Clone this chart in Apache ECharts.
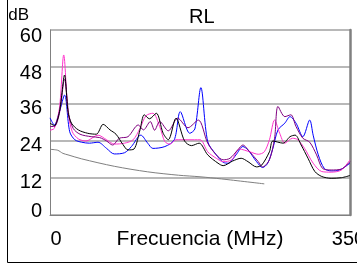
<!DOCTYPE html>
<html><head><meta charset="utf-8">
<script src="https://cdn.jsdelivr.net/npm/echarts@6/dist/echarts.min.js"></script>
<style>html,body{margin:0;padding:0;background:#fff}#c{width:357px;height:266px}</style>
</head><body><div id="c"></div>
<script>
const xTicks = [0, 350];
const yTicks = [0, 12, 24, 36, 48, 60];
const black = [[0,29.8],[5,29],[11,33.5],[17,45.4],[21,33.5],[25,29.8],[33,27.6],[44,26.5],[54,26.2],[62,29.4],[70,27.6],[77,26.2],[85,22.9],[91,21.1],[98,21.4],[105,27.6],[110,32.5],[116,31.2],[124,33],[132,26.5],[138,24.4],[147,31.4],[157,24],[165,22.5],[174,23.3],[184,19.5],[196,16.8],[202,16],[213,17.5],[223,18.4],[231,17.3],[241,15.6],[247,16.2],[256,20.5],[260,24],[272,23.3],[280,25.4],[286,25.9],[293,22.7],[301,18.4],[309,14.1],[317,12.5],[328,11.9],[340,12.1],[350,12.8]];
const blue = [[0,31.5],[5,29.2],[11,33.5],[17,38.9],[23,27],[29,24.4],[37,23.6],[46,23.3],[56,23.6],[66,21.6],[75,19.8],[87,20.2],[95,22.2],[106,25.9],[114,23.3],[120,21.6],[134,22.2],[145,24.4],[152,33.5],[163,26.5],[169,27.9],[176,41.3],[184,23.8],[194,19.5],[202,17.1],[208,16.8],[217,19.5],[225,22.2],[231,21.1],[241,17.3],[248,15.4],[254,16.8],[260,21.6],[266,27.6],[274,29.8],[280,31.9],[287,29.8],[295,25.4],[303,30.8],[307,25.9],[313,19.5],[320,15.1],[328,14.3],[338,14.6],[350,16.8]];
const pink = [[0,27.5],[5,28.1],[11,34.6],[16,51.9],[21,33.5],[26,27],[33,24.7],[42,24],[56,25.9],[66,24.4],[75,23],[87,23.3],[97,24.4],[105,28.1],[112,32.2],[120,33],[128,28.7],[134,23.8],[140,23],[147,24.4],[161,24.4],[175,24.4],[184,20.5],[194,18.4],[202,17.3],[212,17.9],[221,21.4],[233,20.5],[243,19.7],[250,20.5],[256,24.4],[262,30.8],[268,26.5],[274,23.3],[283,24.9],[289,24.4],[297,21.6],[307,16.8],[317,14.1],[328,13.9],[340,14.6],[350,17.9]];
const purple = [[0,28.7],[5,28.7],[11,33],[17,44.1],[22,32.5],[27,28.1],[35,26.2],[48,25.4],[58,25.1],[66,24],[73,22.7],[81,24.9],[91,25.4],[103,29.2],[109,27.6],[117,30.3],[122,27.5],[128,30.3],[138,27.3],[149,31.4],[161,28.3],[173,30.8],[184,23.3],[194,19.5],[202,17.9],[210,18.4],[219,21.1],[225,22.7],[233,20.5],[243,17.3],[248,15.6],[256,17.9],[262,24.9],[266,35.2],[274,31.9],[281,32.5],[287,28.7],[295,24.9],[303,23.6],[311,19.5],[318,15.1],[328,14.6],[340,14.9],[350,17.3]];
const gray = [[0,21.3],[9,21],[15,20],[21,19.5],[37,18.2],[75,15.8],[114,14],[150,12.9],[175,12.4],[200,11.7],[250,10.1]];

const FONT = 'Liberation Sans, Arial, sans-serif';
const chart = echarts.init(document.getElementById('c'), null, {renderer:'canvas'});
function line(name, data, color) {
  return {name, type:'line', data, symbol:'none', smooth:0.3, lineStyle:{color, width:1}, itemStyle:{color}, z:3};
}
const txt = (s) => ({fontFamily:FONT, fontSize:s, color:'#000'});
chart.setOption({
  animation:false,
  backgroundColor:'#fff',
  title:{text:'RL', left:184, top:2, textStyle:Object.assign(txt(20), {fontWeight:'normal'})},
  grid:{left:50, right:7, top:30, bottom:51, outerBoundsMode:'none', containLabel:false},
  xAxis:{type:'value', min:xTicks[0], max:xTicks[1], interval:xTicks[1]-xTicks[0],
    name:'Frecuencia (MHz)', nameLocation:'middle', nameGap:14, nameMoveOverlap:false,
    nameTextStyle:Object.assign(txt(21), {verticalAlign:'top'}),
    axisLine:{lineStyle:{color:'#808080', width:1}}, axisTick:{show:false}, splitLine:{show:false},
    axisLabel:Object.assign(txt(20), {margin:14, hideOverlap:false,
      formatter:v=> v===xTicks[0] ? '{a|'+v+'}' : '{b|'+v+'}',
      rich:{a:Object.assign(txt(20), {padding:[0,0,0,12]}), b:Object.assign(txt(20), {padding:[0,3,0,0]})}})},
  yAxis:[{type:'value', min:yTicks[0], max:yTicks[yTicks.length-1], interval:12,
    name:'dB', nameLocation:'end', nameGap:6, nameMoveOverlap:false,
    nameTextStyle:Object.assign(txt(17), {align:'right', padding:[0,21,0,0]}),
    axisLine:{show:true, lineStyle:{color:'#808080', width:1}}, axisTick:{show:false},
    splitLine:{lineStyle:{color:'#A0A0A0', width:1.5}},
    axisLabel:Object.assign(txt(20), {margin:8,
      formatter:v=> v===0 ? '{u|0}' : (v>=48 ? '{d|'+v+'}' : '{m|'+v+'}'),
      rich:{u:Object.assign(txt(20), {padding:[0,0,7,0]}),
            d:Object.assign(txt(20), {padding:[12,0,0,0]}),
            m:Object.assign(txt(20), {padding:[8,0,0,0]})}})},
    {type:'value', min:0, max:60, interval:12, position:'right', axisLine:{show:true, lineStyle:{color:'#808080', width:2.5}},
     axisTick:{show:false}, axisLabel:{show:false}, splitLine:{show:false}}],
  graphic:[{type:'rect', shape:{x:7.5, y:-10, width:420, height:272.5}, style:{fill:null, stroke:'#000', lineWidth:1}, silent:true, z:-1}],
  series:[
    line('gray', gray, '#808080'),
    line('blue', blue, '#0000FF'),
    line('pink', pink, '#FF33CC'),
    line('purple', purple, '#800080'),
    line('black', black, '#000000')
  ]
});
</script></body></html>
